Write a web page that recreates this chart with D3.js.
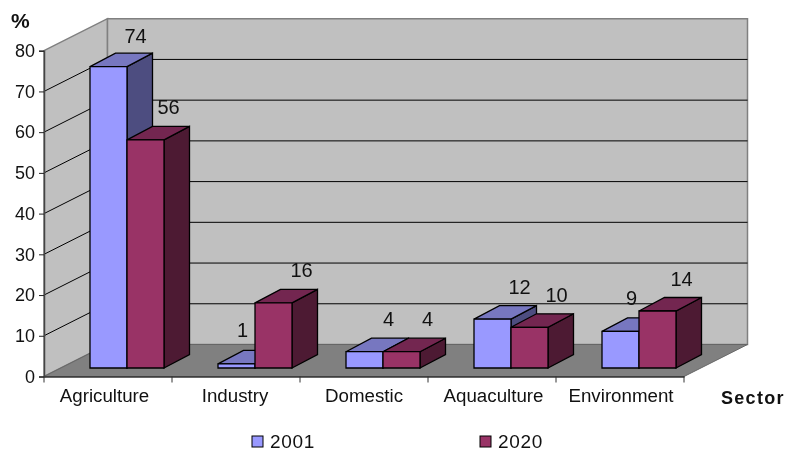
<!DOCTYPE html>
<html>
<head>
<meta charset="utf-8">
<script src="https://cdnjs.cloudflare.com/ajax/libs/d3/7.8.5/d3.min.js"></script>
<style>
body { margin: 0; background: #fff; }
text { font-family: "Liberation Sans", Arial, sans-serif; fill: #111; }
</style>
</head>
<body>
<div id="chart"></div>
<script>

var categories = ["Agriculture", "Industry", "Domestic", "Aquaculture", "Environment"];
var seriesNames = ["2001", "2020"];
var values2001 = [74, 1, 4, 12, 9];
var values2020 = [56, 16, 4, 10, 14];
var yTicks = [0, 10, 20, 30, 40, 50, 60, 70, 80];

// the labels were placed by hand in the original, so each one has its own nudge
var nudge2001 = [[27, -24], [6, -27], [24, -26], [27, -25], [11, -26]];
var nudge2020 = [[23, -26], [28, -26], [26, -26], [27, -25], [24, -25]];
var catNudge = [-3.5, -1, 0, 1.5, 1];

var width = 787,
    height = 451;

var left = 44,
    right = 684,
    depthX = 63.5,
    depthY = -32;

var barDepthX = 25.5,
    barDepthY = -13.5,
    insetY = -8.5,
    barStart = 46,
    barWidth = 37;

var y = d3.scaleLinear().domain([0, 80]).range([376.5, 50.7]);
var x = d3.scaleBand().domain(categories).range([left, right]);
var xSeries = d3.scaleBand().domain(seriesNames).range([barStart, barStart + barWidth * 2]);

var colors = {
    "2001": { front: "#9999ff", top: "#7777c0", side: "#4d4d80" },
    "2020": { front: "#993366", top: "#732650", side: "#4d1a33" }
};

var svg = d3.select("#chart").append("svg")
    .attr("width", width)
    .attr("height", height)
    .style("display", "block")
    .style("filter", "blur(0.35px)");

function poly(points, fill, stroke, sw) {
    return svg.append("polygon")
        .attr("points", points.map(function(p) { return p.join(","); }).join(" "))
        .attr("fill", fill)
        .attr("stroke", stroke)
        .attr("stroke-width", sw);
}

// walls
var top80 = y(80),
    base0 = y(0);

poly([[left, top80], [left + depthX, top80 + depthY], [left + depthX, base0 + depthY], [left, base0]], "#c0c0c0", "#808080", 1.5);
poly([[left + depthX, top80 + depthY], [right + depthX, top80 + depthY], [right + depthX, base0 + depthY], [left + depthX, base0 + depthY]], "#c0c0c0", "#808080", 1.5);

// gridlines
yTicks.filter(function(d) { return d > 0 && d < 80; }).forEach(function(d) {
    svg.append("polyline")
        .attr("points", [left, y(d), left + depthX, y(d) + depthY, right + depthX, y(d) + depthY].join(" "))
        .attr("fill", "none")
        .attr("stroke", "#000")
        .attr("stroke-width", 1);
});

// floor
poly([[left, base0], [right, base0], [right + depthX, base0 + depthY], [left + depthX, base0 + depthY]], "#808080", "#666", 1);

// axes
var yAxis = svg.append("g")
    .attr("transform", "translate(" + left + ",0)")
    .call(d3.axisLeft(y).tickValues(yTicks).tickSize(5).tickPadding(4));
yAxis.select(".domain").attr("stroke", "#444").attr("stroke-width", 1.5);
yAxis.selectAll(".tick line").attr("stroke", "#222");
yAxis.selectAll("text")
    .style("font-size", "18px")
    .style("font-family", "'Liberation Sans', Arial, sans-serif")
    .attr("fill", "#111");

var xAxis = svg.append("g")
    .attr("transform", "translate(0," + base0 + ")")
    .call(d3.axisBottom(x).tickSize(0).tickFormat(""));
xAxis.select(".domain").attr("stroke", "#333").attr("stroke-width", 1.5);

x.domain().concat([null]).forEach(function(c) {
    var px = c === null ? right : x(c);
    svg.append("line")
        .attr("x1", px).attr("x2", px)
        .attr("y1", base0).attr("y2", base0 + 6)
        .attr("stroke", "#333");
});

categories.forEach(function(c, i) {
    var cx = x(c) + x.bandwidth() / 2 + catNudge[i];
    svg.append("text")
        .attr("transform", "translate(" + cx + ",402) scale(1.04,1)")
        .attr("text-anchor", "middle")
        .style("font-size", "18px")
        .text(c);
});

// bars
function drawBar(cat, serie, value) {
    var c = colors[serie];
    var x0 = x(cat) + xSeries(serie),
        x1 = x0 + xSeries.bandwidth(),
        yb = y(0) + insetY,
        yt = y(value) + insetY;

    var sw = 1.3;
    poly([[x1, yt], [x1 + barDepthX, yt + barDepthY], [x1 + barDepthX, yb + barDepthY], [x1, yb]], c.side, "#000", sw);
    poly([[x0, yt], [x0 + barDepthX, yt + barDepthY], [x1 + barDepthX, yt + barDepthY], [x1, yt]], c.top, "#000", sw);
    poly([[x0, yt], [x1, yt], [x1, yb], [x0, yb]], c.front, "#000", sw);
}

categories.forEach(function(c, i) {
    drawBar(c, "2001", values2001[i]);
    drawBar(c, "2020", values2020[i]);
});

// data labels
function drawLabels(serie, vals, nudges) {
    svg.append("g").selectAll("text")
        .data(vals)
        .enter()
        .append("text")
        .attr("x", function(d, i) { return x(categories[i]) + xSeries(serie) + xSeries.bandwidth() / 2 + nudges[i][0]; })
        .attr("y", function(d, i) { return y(d) + insetY + nudges[i][1]; })
        .attr("text-anchor", "middle")
        .style("font-size", "20px")
        .text(function(d) { return d; });
}
drawLabels("2001", values2001, nudge2001);
drawLabels("2020", values2020, nudge2020);

// axis titles
svg.append("text")
    .attr("x", 11).attr("y", 28)
    .style("font-size", "21px")
    .style("font-weight", "bold")
    .text("%");

svg.append("text")
    .attr("x", 721).attr("y", 404)
    .style("font-size", "18px")
    .style("font-weight", "bold")
    .style("letter-spacing", "1.3px")
    .text("Sector");

// legend
var legendX = d3.scaleOrdinal().domain(seriesNames).range([252, 480]);
seriesNames.forEach(function(s) {
    svg.append("rect")
        .attr("x", legendX(s)).attr("y", 436)
        .attr("width", 11).attr("height", 11)
        .attr("fill", colors[s].front)
        .attr("stroke", "#000");
    svg.append("text")
        .attr("x", legendX(s) + 18).attr("y", 448)
        .style("font-size", "19px")
        .style("letter-spacing", "0.7px")
        .text(s);
});

</script>
</body>
</html>
